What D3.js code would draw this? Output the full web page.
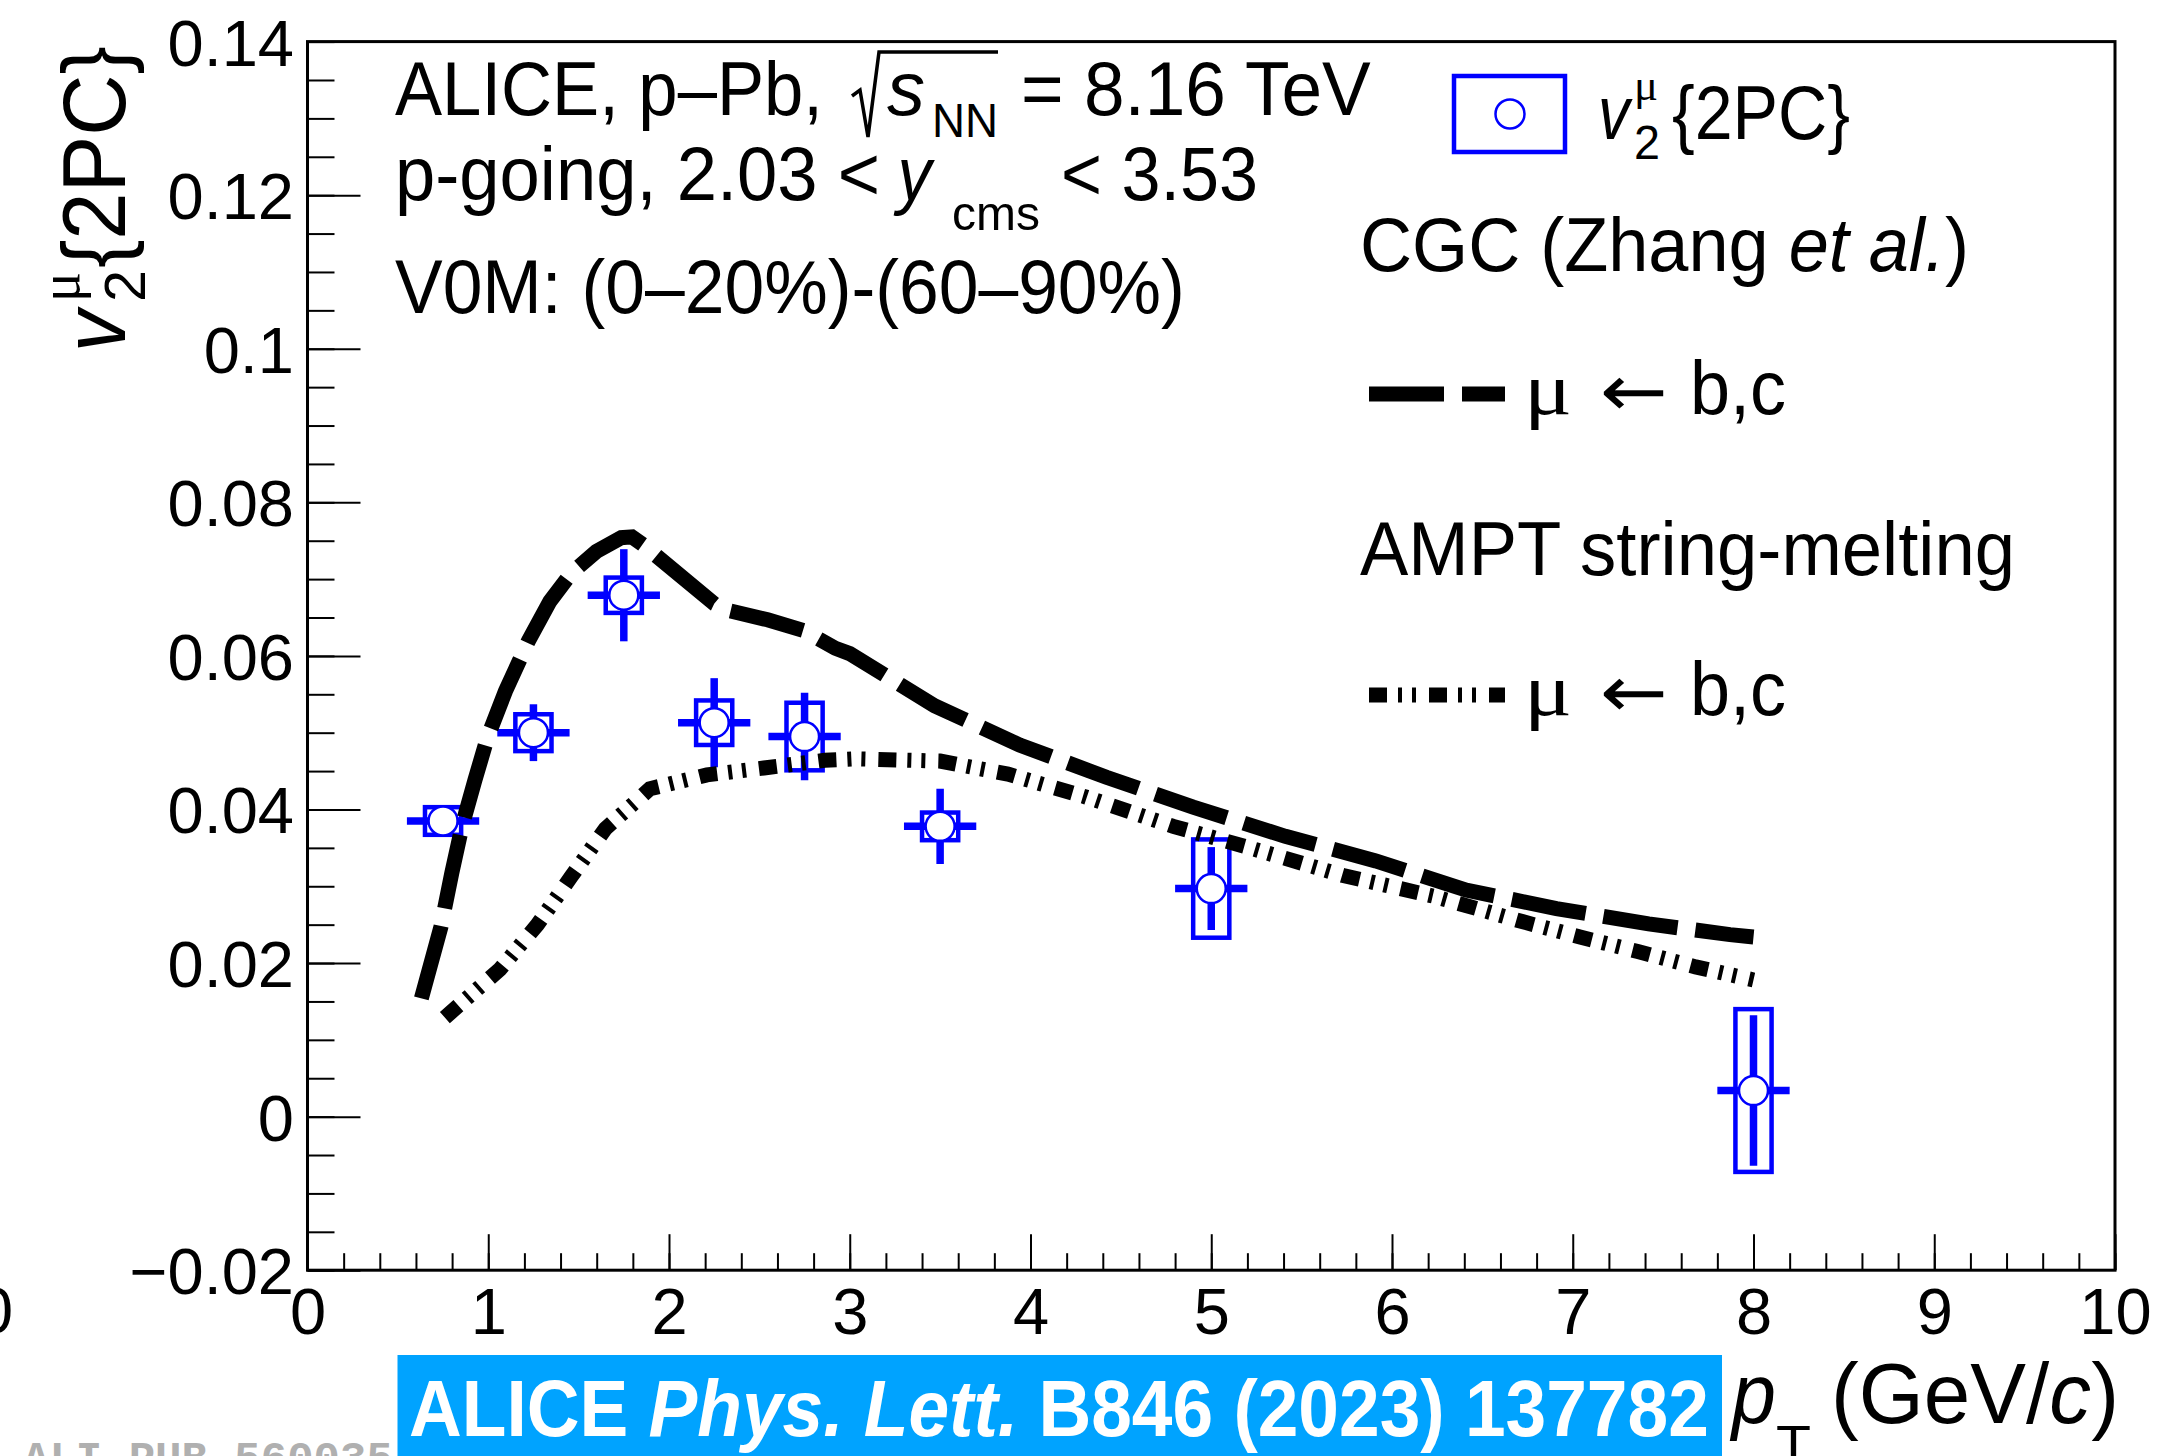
<!DOCTYPE html>
<html>
<head>
<meta charset="utf-8">
<script src="https://cdn.jsdelivr.net/npm/d3@7"></script>
<style>
  html, body { margin: 0; padding: 0; background: #fff; }
  svg { display: block; }
  text { white-space: pre; }
</style>
</head>
<body>
<svg id="chart" width="2172" height="1456" font-family="'Liberation Sans', Arial, Helvetica, sans-serif"></svg>
<script>
// ---- muon v2{2PC} measurement ----
const ptCenters = [0.75, 1.25, 1.75, 2.25, 2.75, 3.5, 5.0, 8.0];
const v2Values  = [0.0385, 0.0500, 0.0679, 0.0513, 0.0495, 0.0378, 0.0297, 0.0034];
const v2Stat    = [0.0012, 0.0037, 0.0060, 0.0058, 0.0057, 0.0049, 0.0054, 0.0098];
const v2Syst    = [0.0018, 0.0024, 0.0023, 0.0029, 0.0044, 0.0018, 0.0064, 0.0106];
const ptErrHalf = 0.2;   // horizontal error bar half length
const sysHalfW  = 0.1;   // systematic box half width

// ---- CGC (Zhang et al.) mu <- b,c ----
const cgcPt = [0.63, 0.738, 0.798, 0.857, 0.926, 0.996, 1.095, 1.223, 1.341, 1.46, 1.598, 1.736, 1.795, 1.855,
               2.25, 2.33, 2.546, 2.744, 2.92, 3.0, 3.47, 3.94, 4.42, 4.90, 5.41, 5.91, 6.41, 6.91, 7.42, 7.87, 8.0];
const cgcV2 = [0.0154, 0.0247, 0.0317, 0.0380, 0.0438, 0.0494, 0.0554, 0.0620, 0.0671, 0.0708, 0.0736, 0.0754, 0.0755, 0.0745,
               0.0668, 0.0659, 0.0647, 0.0633, 0.0610, 0.0603, 0.0535, 0.0484, 0.0442, 0.0403, 0.0365, 0.0333, 0.0295, 0.0271, 0.0251, 0.0237, 0.0234];

// ---- AMPT string-melting mu <- b,c ----
const amptPt = [0.76, 1.065, 1.272, 1.46, 1.648, 1.815, 1.894, 2.21, 2.525, 2.862, 3.04, 3.50, 3.875, 4.31, 4.79,
                5.185, 5.73, 6.23, 6.72, 7.04, 7.36, 7.68, 8.0];
const amptV2 = [0.0129, 0.0192, 0.0250, 0.0313, 0.0375, 0.0410, 0.0427, 0.0445, 0.0454, 0.0464, 0.0466, 0.0463, 0.0446, 0.0416, 0.0378,
                0.0352, 0.0314, 0.0287, 0.0254, 0.0234, 0.0215, 0.0195, 0.0178];

// ---- axis ticks ----
const xTickValues = [0, 1, 2, 3, 4, 5, 6, 7, 8, 9, 10];
const xTickLabels = ["0", "1", "2", "3", "4", "5", "6", "7", "8", "9", "10"];
const yTickValues = [-0.02, 0, 0.02, 0.04, 0.06, 0.08, 0.1, 0.12, 0.14];
const yTickLabels = ["\u22120.02", "0", "0.02", "0.04", "0.06", "0.08", "0.1", "0.12", "0.14"];

const BLUE = "#0000ff";
const SANS = "'Liberation Sans', Arial, Helvetica, sans-serif";
const SERIF = "'Liberation Serif', 'DejaVu Serif', serif";
const ARROWFONT = "'DejaVu Sans', sans-serif";
const MONO = "'Liberation Mono', 'DejaVu Sans Mono', monospace";

const svg = d3.select("#chart");
svg.append("rect").attr("width", 2172).attr("height", 1456).attr("fill", "#fff");

const x = d3.scaleLinear().domain([0, 10]).range([307.5, 2115]);
const y = d3.scaleLinear().domain([-0.02, 0.14]).range([1270.2, 41.6]);

// text helper: places a (possibly multi-part) label so that it spans x0..x1
function label(parent, parts, x0, x1, baseline, size, family) {
  const t = parent.append("text").attr("x", 0).attr("y", baseline).attr("font-size", size)
    .attr("font-family", family || SANS).attr("fill", "#000");
  parts.forEach(p => {
    const s = t.append("tspan").text(p.t);
    if (p.i) s.attr("font-style", "italic");
    if (p.b) s.attr("font-weight", "bold");
    if (p.f) s.attr("font-family", p.f);
  });
  const bb = t.node().getBBox();
  const sc = (x1 != null) ? (x1 - x0) / bb.width : 1;
  t.attr("transform", `translate(${x0},0) scale(${sc},1) translate(${-bb.x},0)`);
  return t;
}

// ---- axes ----
const xMinor = d3.range(0, 10.0001, 0.2);
const yMinor = d3.range(-0.02, 0.14001, 0.005);
const axisBase = y(-0.02), axisLeftX = x(0);

svg.append("g").attr("transform", `translate(0,${axisBase})`)
  .call(d3.axisBottom(x).tickValues(xMinor).tickSize(-17).tickSizeOuter(0).tickFormat(""))
  .call(g => g.select(".domain").remove())
  .call(g => g.selectAll("line").attr("stroke-width", 2));

const gx = svg.append("g").attr("transform", `translate(0,${axisBase})`)
  .call(d3.axisBottom(x).tickValues(xTickValues).tickFormat((d, i) => xTickLabels[i])
        .tickSize(-36).tickSizeOuter(0).tickPadding(18));
gx.select(".domain").remove();
gx.attr("font-size", 65).attr("font-family", SANS);
gx.selectAll("line").attr("stroke-width", 2);
gx.selectAll("text").attr("fill", "#000");

svg.append("g").attr("transform", `translate(${axisLeftX},0)`)
  .call(d3.axisLeft(y).tickValues(yMinor).tickSize(-27).tickSizeOuter(0).tickFormat(""))
  .call(g => g.select(".domain").remove())
  .call(g => g.selectAll("line").attr("stroke-width", 2));

const gy = svg.append("g").attr("transform", `translate(${axisLeftX},0)`)
  .call(d3.axisLeft(y).tickValues(yTickValues).tickFormat((d, i) => yTickLabels[i])
        .tickSize(-53).tickSizeOuter(0).tickPadding(13.5));
gy.select(".domain").remove();
gy.attr("font-size", 65).attr("font-family", SANS);
gy.selectAll("line").attr("stroke-width", 2);
gy.selectAll("text").attr("fill", "#000").attr("dy", "0.36em");

// frame
svg.append("rect")
  .attr("x", x(0)).attr("y", y(0.14))
  .attr("width", x(10) - x(0)).attr("height", y(-0.02) - y(0.14))
  .attr("fill", "none").attr("stroke", "#000").attr("stroke-width", 3);

// stray label cut by the left edge
svg.append("text").attr("x", -5).attr("y", 1333).attr("font-size", 65)
  .attr("text-anchor", "middle").text("0");

// ---- data points ----
const pts = ptCenters.map((p, i) => ({ pt: p, v: v2Values[i], st: v2Stat[i], sy: v2Syst[i] }));
const gData = svg.append("g");

gData.selectAll("rect.sys").data(pts).join("rect")
  .attr("class", "sys")
  .attr("x", d => x(d.pt - sysHalfW)).attr("width", d => x(d.pt + sysHalfW) - x(d.pt - sysHalfW))
  .attr("y", d => y(d.v + d.sy)).attr("height", d => y(d.v - d.sy) - y(d.v + d.sy))
  .attr("fill", "none").attr("stroke", BLUE).attr("stroke-width", 4.5);

gData.selectAll("line.stat").data(pts).join("line")
  .attr("class", "stat")
  .attr("x1", d => x(d.pt)).attr("x2", d => x(d.pt))
  .attr("y1", d => y(d.v - d.st)).attr("y2", d => y(d.v + d.st))
  .attr("stroke", BLUE).attr("stroke-width", 7.5);

gData.selectAll("line.xerr").data(pts).join("line")
  .attr("class", "xerr")
  .attr("x1", d => x(d.pt - ptErrHalf)).attr("x2", d => x(d.pt + ptErrHalf))
  .attr("y1", d => y(d.v)).attr("y2", d => y(d.v))
  .attr("stroke", BLUE).attr("stroke-width", 7.5);

gData.selectAll("circle").data(pts).join("circle")
  .attr("cx", d => x(d.pt)).attr("cy", d => y(d.v)).attr("r", 14.5)
  .attr("fill", "#fff").attr("stroke", BLUE).attr("stroke-width", 2.5);

// ---- model curves ----
const line = d3.line().x(d => x(d[0])).y(d => y(d[1])).curve(d3.curveLinear);
const DASH = "75,18";
const DASHDOT = "18,11,4,10,4,13";

svg.append("path").datum(cgcPt.map((p, i) => [p, cgcV2[i]]))
  .attr("d", line).attr("fill", "none").attr("stroke", "#000")
  .attr("stroke-width", 15).attr("stroke-dasharray", DASH).attr("stroke-linecap", "butt");

svg.append("path").datum(amptPt.map((p, i) => [p, amptV2[i]]))
  .attr("d", line).attr("fill", "none").attr("stroke", "#000")
  .attr("stroke-width", 15).attr("stroke-dasharray", DASHDOT).attr("stroke-linecap", "butt");

// ---- header text ----
const gt = svg.append("g");
label(gt, [{ t: "ALICE, p\u2013Pb," }], 395, 823, 115, 76);
gt.append("path").attr("d", "M852,96 L860,90 L868,137 L879,52 L998,52")
  .attr("fill", "none").attr("stroke", "#000").attr("stroke-width", 3.5).attr("stroke-linejoin", "miter");
label(gt, [{ t: "s", i: true }], 887, 925, 115, 76);
label(gt, [{ t: "NN" }], 932, 998, 137, 48);
label(gt, [{ t: "= 8.16 TeV" }], 1021, 1371, 115, 76);

label(gt, [{ t: "p-going, 2.03 <" }], 395, 880, 200, 76);
label(gt, [{ t: "y", i: true }], 893, 935, 200, 76);
label(gt, [{ t: "cms" }], 952, 1040, 230, 49);
label(gt, [{ t: "< 3.53" }], 1061, 1258, 200, 76);

label(gt, [{ t: "V0M: (0\u201320%)-(60\u201390%)" }], 395, 1185, 313, 76);

// ---- legend ----
const gl = svg.append("g");
gl.append("rect").attr("x", 1454).attr("y", 76).attr("width", 111).attr("height", 76)
  .attr("fill", "none").attr("stroke", BLUE).attr("stroke-width", 4.5);
gl.append("circle").attr("cx", 1510).attr("cy", 114).attr("r", 14.5)
  .attr("fill", "#fff").attr("stroke", BLUE).attr("stroke-width", 2.5);
label(gl, [{ t: "v", i: true }], 1598, 1633, 139, 76);
label(gl, [{ t: "\u03bc" }], 1634, 1658, 100, 44, SERIF);
label(gl, [{ t: "2" }], 1634, 1660, 159, 48);
label(gl, [{ t: "{2PC}" }], 1672, 1850, 139, 76);

label(gl, [{ t: "CGC (Zhang " }, { t: "et al.", i: true }, { t: ")" }], 1360, 1969, 271, 76);
gl.append("line").attr("x1", 1369).attr("x2", 1505).attr("y1", 394).attr("y2", 394)
  .attr("stroke", "#000").attr("stroke-width", 15).attr("stroke-dasharray", DASH);
label(gl, [{ t: "\u03bc" }], 1524, 1572, 414, 74, SERIF);
label(gl, [{ t: "\u2190" }], 1600, 1668, 416, 72, ARROWFONT);
label(gl, [{ t: "b,c" }], 1690, 1786, 414, 76);

label(gl, [{ t: "AMPT string-melting" }], 1360, 2015, 575, 76);
gl.append("line").attr("x1", 1369).attr("x2", 1505).attr("y1", 695).attr("y2", 695)
  .attr("stroke", "#000").attr("stroke-width", 15).attr("stroke-dasharray", DASHDOT);
label(gl, [{ t: "\u03bc" }], 1524, 1572, 715, 74, SERIF);
label(gl, [{ t: "\u2190" }], 1600, 1668, 717, 72, ARROWFONT);
label(gl, [{ t: "b,c" }], 1690, 1786, 715, 76);

// ---- axis titles ----
const yt = svg.append("g").attr("transform", "translate(125,0) rotate(-90)");
label(yt, [{ t: "v", i: true }], -352, -306, 0, 89);
label(yt, [{ t: "2" }], -302, -270, 20, 58);
label(yt, [{ t: "\u03bc" }], -302, -272, -46, 58, SERIF);
label(yt, [{ t: "{2PC}" }], -268, -46, 0, 89);

label(svg, [{ t: "p", i: true }], 1729, 1776, 1423, 86);
label(svg, [{ t: "T" }], 1776, 1811, 1462, 52);
label(svg, [{ t: "(GeV/" }, { t: "c", i: true }, { t: ")" }], 1831, 2119, 1423, 86);

// ---- publication banner ----
svg.append("rect").attr("x", 397.5).attr("y", 1355).attr("width", 1324.5).attr("height", 101).attr("fill", "#00a3ff");
label(svg, [{ t: "ALICE ", b: true }, { t: "Phys. Lett.", b: true, i: true }, { t: " B846 (2023) 137782", b: true }],
      409, 1709, 1436, 80).attr("fill", "#fff");

label(svg, [{ t: "ALI-PUB-560035" }], 23, 393, 1472, 44, MONO)
  .attr("font-weight", "bold").attr("fill", "#b0b0b0");
</script>
</body>
</html>
